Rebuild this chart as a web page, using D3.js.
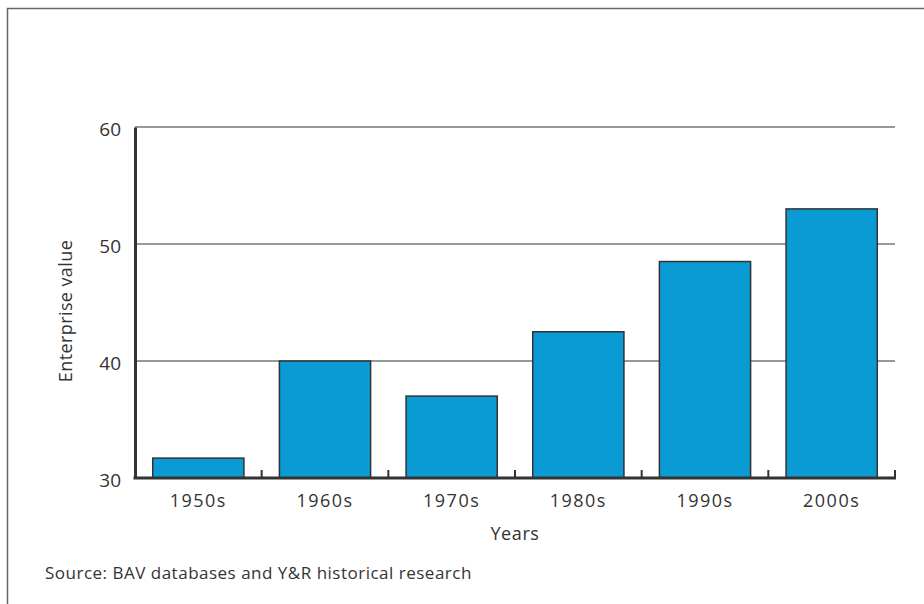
<!DOCTYPE html>
<html>
<head>
<meta charset="utf-8">
<script src="https://cdn.jsdelivr.net/npm/d3@7"></script>
<style>
  body { margin: 0; background: #fff; }
  text { font-family: "Open Sans", "Noto Sans", sans-serif; fill: #333; }
</style>
</head>
<body>
<div id="chart"></div>
<script>
const decades = ["1950s", "1960s", "1970s", "1980s", "1990s", "2000s"];
const values = [31.7, 40.0, 37.0, 42.5, 48.5, 53.0];
const yTicks = [30, 40, 50, 60];

const w = 924;
const h = 604;
const padLeft = 135, padRight = 895, padTop = 127, padBottom = 478;

const svg = d3.select("#chart")
              .append("svg")
              .attr("width", w)
              .attr("height", h);

// frame
svg.append("path")
   .attr("d", `M7.5,${h} V8.5 H${w}`)
   .attr("fill", "none")
   .attr("stroke", "#666")
   .attr("stroke-width", 1.5);

const xScale = d3.scaleBand()
                 .domain(decades)
                 .range([padLeft, padRight])
                 .paddingInner(0.28)
                 .paddingOuter(0.14);

const yScale = d3.scaleLinear()
                 .domain([30, 60])
                 .range([padBottom, padTop]);

// gridlines
svg.append("g")
   .selectAll("line")
   .data(yTicks.filter((d) => d > 30))
   .enter()
   .append("line")
   .attr("x1", padLeft)
   .attr("x2", padRight)
   .attr("y1", (d) => yScale(d))
   .attr("y2", (d) => yScale(d))
   .attr("stroke", "#777")
   .attr("stroke-width", 1.5);

// bars
svg.selectAll("rect.bar")
   .data(values)
   .enter()
   .append("rect")
   .attr("class", "bar")
   .attr("x", (d, i) => xScale(decades[i]))
   .attr("y", (d) => yScale(d))
   .attr("width", xScale.bandwidth())
   .attr("height", (d) => yScale(30) - yScale(d))
   .attr("fill", "#0a9bd4")
   .attr("stroke", "#333")
   .attr("stroke-width", 1.5);

// y axis
const yAxis = d3.axisLeft(yScale).tickValues(yTicks).tickSize(0).tickPadding(14);
const gy = svg.append("g")
              .attr("transform", `translate(${padLeft}, 0)`)
              .call(yAxis);
gy.select(".domain").attr("stroke", "#333").attr("stroke-width", 3);
gy.selectAll("text").attr("font-size", 19).attr("dy", "0.45em");

// x axis with ticks at band edges pointing up
const gx = svg.append("g");
gx.append("line")
  .attr("x1", padLeft - 1.5)
  .attr("x2", padRight + 1)
  .attr("y1", padBottom)
  .attr("y2", padBottom)
  .attr("stroke", "#333")
  .attr("stroke-width", 3);
const step = xScale.step();
gx.selectAll("line.tick")
  .data(decades)
  .enter()
  .append("line")
  .attr("class", "tick")
  .attr("x1", (d) => xScale(d) - xScale.paddingOuter() * step + step)
  .attr("x2", (d) => xScale(d) - xScale.paddingOuter() * step + step)
  .attr("y1", padBottom)
  .attr("y2", padBottom - 8)
  .attr("stroke", "#333")
  .attr("stroke-width", 2);
gx.selectAll("text")
  .data(decades)
  .enter()
  .append("text")
  .attr("x", (d) => xScale(d) + xScale.bandwidth() / 2)
  .attr("y", 507)
  .attr("text-anchor", "middle")
  .attr("font-size", 18)
  .attr("letter-spacing", 1.5)
  .text((d) => d);

// axis titles
svg.append("text")
   .attr("x", 515)
   .attr("y", 540)
   .attr("text-anchor", "middle")
   .attr("font-size", 18)
   .attr("letter-spacing", 0.6)
   .text("Years");

svg.append("text")
   .attr("transform", "translate(72, 311) rotate(-90)")
   .attr("text-anchor", "middle")
   .attr("font-size", 18)
   .attr("letter-spacing", 0.4)
   .text("Enterprise value");

svg.append("text")
   .attr("x", 45)
   .attr("y", 579)
   .attr("font-size", 17)
   .attr("letter-spacing", 0.5)
   .text("Source: BAV databases and Y&R historical research");
</script>
</body>
</html>
